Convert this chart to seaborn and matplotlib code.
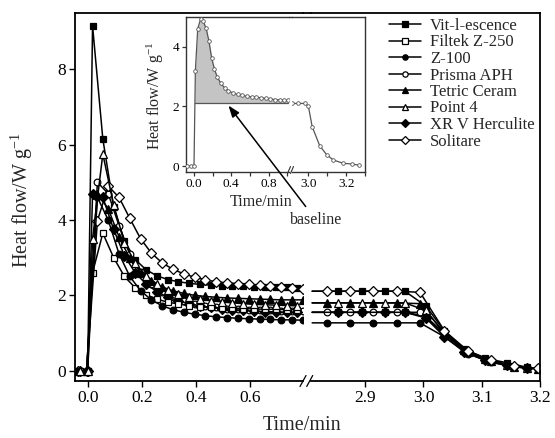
import matplotlib
matplotlib.use("Agg")
import matplotlib.pyplot as plt
import seaborn as sns
from matplotlib.lines import Line2D

# time grids (min) - two sampling phases for the left part, two for the right part
t_a = [-0.035, -0.004, 0.036, 0.076, 0.116, 0.156, 0.196, 0.236, 0.276, 0.316, 0.356,
       0.396, 0.436, 0.476, 0.516, 0.556, 0.596, 0.636, 0.676, 0.716, 0.756, 0.796]
t_b = [-0.03, 0.0, 0.018, 0.056, 0.096, 0.136, 0.176, 0.216, 0.256, 0.296, 0.336,
       0.376, 0.416, 0.456, 0.496, 0.536, 0.576, 0.616, 0.656, 0.696, 0.736, 0.776]
r_a = [2.809, 2.834, 2.874, 2.914, 2.954, 2.994, 3.036, 3.076, 3.116, 3.156, 3.196]
r_b = [2.809, 2.854, 2.894, 2.934, 2.968, 3.004, 3.036, 3.07, 3.105, 3.144, 3.178]

names = ["Vit-l-escence", "Filtek Z-250", "Z-100", "Prisma APH",
         "Tetric Ceram", "Point 4", "XR V Herculite", "Solitare"]

# heat flow (W/g), left part of the axis
vit_l = [0, 0, 9.15, 6.15, 4.35, 3.45, 2.95, 2.68, 2.52, 2.42, 2.36, 2.32, 2.29, 2.27, 2.26, 2.25, 2.24, 2.23, 2.22, 2.21, 2.21, 2.20]
filtek_l = [0, 0, 2.6, 3.65, 3.0, 2.5, 2.2, 2.02, 1.9, 1.82, 1.77, 1.73, 1.70, 1.68, 1.67, 1.66, 1.65, 1.64, 1.63, 1.63, 1.62, 1.62]
z100_l = [0, 0, 4.6, 4.0, 3.1, 2.5, 2.12, 1.88, 1.72, 1.62, 1.55, 1.5, 1.46, 1.43, 1.41, 1.39, 1.38, 1.37, 1.36, 1.35, 1.35, 1.34]
prisma_l = [0, 0, 5.0, 4.7, 3.85, 3.1, 2.62, 2.3, 2.1, 1.95, 1.85, 1.78, 1.72, 1.68, 1.65, 1.63, 1.62, 1.61, 1.6, 1.59, 1.58, 1.58]
tetric_l = [0, 0, 4.7, 4.3, 3.55, 2.98, 2.6, 2.38, 2.22, 2.12, 2.05, 2.0, 1.97, 1.95, 1.93, 1.92, 1.91, 1.9, 1.89, 1.88, 1.88, 1.88]
point4_l = [0, 0, 3.5, 5.75, 4.4, 3.4, 2.85, 2.52, 2.3, 2.15, 2.04, 1.96, 1.9, 1.86, 1.83, 1.8, 1.78, 1.76, 1.75, 1.74, 1.73, 1.72]
xrv_l = [0, 0, 4.7, 4.6, 3.75, 3.05, 2.6, 2.3, 2.1, 1.95, 1.85, 1.78, 1.72, 1.68, 1.65, 1.62, 1.6, 1.58, 1.57, 1.56, 1.55, 1.55]
solitare_l = [0, 0, 3.98, 4.9, 4.6, 4.04, 3.5, 3.12, 2.86, 2.69, 2.57, 2.48, 2.41, 2.36, 2.33, 2.31, 2.29, 2.27, 2.25, 2.23, 2.2, 2.17]

# right part of the axis
vit_r = [2.11, 2.11, 2.11, 2.11, 2.11, 1.72, 1.05, 0.58, 0.33, 0.21, 0.09]
filtek_r = [1.55, 1.55, 1.55, 1.55, 1.55, 1.45, 0.95, 0.55, 0.3, 0.15, 0.07]
z100_r = [1.27, 1.27, 1.27, 1.27, 1.27, 1.27, 0.9, 0.45, 0.22, 0.1, 0.05]
prisma_r = [1.55, 1.55, 1.55, 1.55, 1.55, 1.55, 1.0, 0.5, 0.25, 0.1, 0.05]
tetric_r = [1.80, 1.80, 1.80, 1.80, 1.80, 1.78, 1.0, 0.5, 0.26, 0.11, 0.05]
point4_r = [1.8, 1.8, 1.8, 1.8, 1.8, 1.6, 1.0, 0.55, 0.3, 0.15, 0.07]
xrv_r = [1.55, 1.55, 1.55, 1.55, 1.55, 1.4, 0.9, 0.5, 0.28, 0.14, 0.07]
solitare_r = [2.11, 2.11, 2.11, 2.11, 2.11, 2.08, 1.06, 0.53, 0.28, 0.12, 0.06]

# inset (single run with baseline)
tin_l = [-0.07, -0.035, 0.0, 0.015, 0.04, 0.07, 0.1, 0.13, 0.16, 0.19, 0.22, 0.25, 0.29, 0.33,
         0.37, 0.42, 0.47, 0.52, 0.57, 0.62, 0.67, 0.72, 0.77, 0.82, 0.87, 0.92, 0.97, 1.01]
vin_l = [0, 0, 0, 3.2, 4.6, 4.92, 4.85, 4.62, 4.2, 3.62, 3.25, 2.98, 2.77, 2.62,
         2.52, 2.45, 2.4, 2.37, 2.34, 2.32, 2.31, 2.29, 2.27, 2.25, 2.23, 2.22, 2.21, 2.2]
tin_r = [2.915, 2.945, 2.98, 3.0, 3.02, 3.06, 3.098, 3.133, 3.186, 3.23, 3.266]
vin_r = [2.1, 2.1, 2.1, 2.0, 1.32, 0.68, 0.37, 0.2, 0.09, 0.07, 0.03]
baseline = 2.1

left_vals = [vit_l, filtek_l, z100_l, prisma_l, tetric_l, point4_l, xrv_l, solitare_l]
right_vals = [vit_r, filtek_r, z100_r, prisma_r, tetric_r, point4_r, xrv_r, solitare_r]
left_t = [t_b, t_b, t_a, t_a, t_a, t_b, t_b, t_a]
right_t = [r_b, r_b, r_a, r_a, r_a, r_b, r_b, r_a]
markers = ["s", "s", "o", "o", "^", "^", "D", "D"]
filled = [True, False, True, False, True, False, True, False]
msizes = [4.6, 4.6, 4.8, 4.8, 5.4, 5.4, 5.0, 5.4]

sns.set_style("ticks")
plt.rcParams['font.family'] = ['Liberation Serif', 'DejaVu Serif']
plt.rcParams['mathtext.fontset'] = 'custom'
plt.rcParams['mathtext.rm'] = 'Liberation Serif'
plt.rcParams['mathtext.it'] = 'Liberation Serif:italic'
plt.rcParams['axes.unicode_minus'] = True

W, H = 555, 438
fig = plt.figure(figsize=(W / 100, H / 100), dpi=100)

def box(x0, x1, y0, y1):
    return [x0 / W, 1 - y1 / H, (x1 - x0) / W, (y1 - y0) / H]

axL = fig.add_axes(box(75, 303, 12.7, 380.7))
axR = fig.add_axes(box(311, 540, 12.7, 380.7))

for i, name in enumerate(names):
    mfc = "black" if filled[i] else "white"
    sns.lineplot(x=left_t[i], y=left_vals[i], ax=axL, color="black", lw=1.1,
                 marker=markers[i], markersize=msizes[i], mfc=mfc, mec="black",
                 mew=0.9, label=name, estimator=None, sort=False, zorder=3 + (i % 3))
    sns.lineplot(x=right_t[i], y=right_vals[i], ax=axR, color="black", lw=1.1,
                 marker=markers[i], markersize=msizes[i], mfc=mfc, mec="black",
                 mew=0.9, markevery=list(range(1, len(right_t[i]))),
                 estimator=None, sort=False, legend=False)

handles, labels = axL.get_legend_handles_labels()
if axL.get_legend() is not None:
    axL.get_legend().remove()

ylim = (-0.265, 9.5)
axL.set_xlim(-0.047, 0.797)
axR.set_xlim(2.807, 3.2)
for ax in (axL, axR):
    ax.set_ylim(*ylim)
    for s in ax.spines.values():
        s.set_linewidth(1.3)
        s.set_color("black")
    ax.tick_params(direction="out", length=4.5, width=1, labelsize=12.5, pad=2, colors="black")
    ax.set_xlabel("")
    ax.set_ylabel("")
axL.set_xticks([0.0, 0.2, 0.4, 0.6])
axL.set_xticklabels(["0.0", "0.2", "0.4", "0.6"])
axL.set_yticks([0, 2, 4, 6, 8])
axL.spines["right"].set_visible(False)
axR.set_xticks([2.9, 3.0, 3.1, 3.2])
axR.set_xticklabels(["2.9", "3.0", "3.1", "3.2"])
axR.set_yticks([])
axR.spines["left"].set_visible(False)

# top spine continuous across the break, slashes on the bottom
fig.add_artist(Line2D([303 / W, 311 / W], [1 - 12.7 / H] * 2, color="black", lw=1.3))
for xs in (300, 306.7):
    fig.add_artist(Line2D([xs / W, (xs + 6) / W], [1 - 386.5 / H, 1 - 375.5 / H], color="black", lw=0.9))

fig.text(301.7 / W, 1 - 425 / H, "Time/min", ha="center", va="center", fontsize=14.5)
fig.text(22 / W, 1 - 200 / H, "Heat flow/W g$^{-1}$", ha="center", va="center",
         rotation=90, fontsize=14.5)

fig.legend(handles, labels, loc="upper left", bbox_to_anchor=(389 / W, 1 - 18 / H),
           frameon=False, fontsize=12, handlelength=1.95, handletextpad=0.5,
           labelspacing=0.03, borderpad=0, borderaxespad=0, markerscale=0.8)

# inset
gray = "#555555"
inL = fig.add_axes(box(185.7, 289, 16.7, 171.7))
inR = fig.add_axes(box(292, 365, 16.7, 171.7))
inL.fill_between(tin_l, vin_l, baseline, where=[v >= baseline for v in vin_l],
                 interpolate=True, color="#c4c4c4", lw=0, zorder=1)
inL.plot([0.0099, tin_l[-1]], [baseline, baseline], color=gray, lw=0.9, zorder=2)
sns.lineplot(x=tin_l, y=vin_l, ax=inL, color=gray, lw=0.9, marker="o", markersize=2.6,
             mfc="white", mec=gray, mew=0.6, estimator=None, sort=False, zorder=3)
sns.lineplot(x=tin_r, y=vin_r, ax=inR, color=gray, lw=0.9, marker="o", markersize=2.6,
             mfc="white", mec=gray, mew=0.6, estimator=None, sort=False, zorder=3)
inL.set_xlim(-0.089, 1.02)
inR.set_xlim(2.913, 3.30)
for ax in (inL, inR):
    ax.set_ylim(-0.19, 5.01)
    ax.set_xlabel("")
    ax.set_ylabel("")
    for s in ax.spines.values():
        s.set_linewidth(1.0)
        s.set_color("#333333")
    ax.tick_params(direction="out", length=3, width=0.9, labelsize=9.5, pad=1.5,
                   colors="#333333", labelcolor="black")
    ax.tick_params(which="minor", direction="out", length=3, width=0.9, colors="#333333")
inL.set_xticks([0.0, 0.4, 0.8])
inL.set_xticklabels(["0.0", "0.4", "0.8"])
inL.set_xticks([0.2, 0.6, 1.0], minor=True)
inL.set_yticks([0, 2, 4])
inL.spines["right"].set_visible(False)
inR.set_xticks([3.0, 3.2])
inR.set_xticklabels(["3.0", "3.2"])
inR.set_xticks([3.1, 3.3], minor=True)
inR.set_yticks([])
inR.spines["left"].set_visible(False)
fig.add_artist(Line2D([289 / W, 292 / W], [1 - 16.7 / H] * 2, color="#333333", lw=1.0))
for xs in (287.5, 290.5):
    fig.add_artist(Line2D([xs / W, (xs + 3) / W], [1 - 173.5 / H, 1 - 166.5 / H], color="#333333", lw=0.8))

fig.text(261 / W, 1 - 202 / H, "Time/min", ha="center", va="center", fontsize=11.5)
fig.text(155 / W, 1 - 96 / H, "Heat flow/W g$^{-1}$", ha="center", va="center",
         rotation=90, fontsize=11.5)

ann = inL.annotate("baseline", xy=(0.37, 2.03), xycoords="data",
                   xytext=(316 / W, 1 - 220 / H), textcoords="figure fraction",
                   ha="center", va="center", fontsize=11.5, annotation_clip=False,
                   arrowprops=dict(arrowstyle="-|>,head_length=0.6,head_width=0.22",
                                   color="black", lw=1.1, shrinkA=2, shrinkB=0))

fig.savefig("out.png", dpi=100)
